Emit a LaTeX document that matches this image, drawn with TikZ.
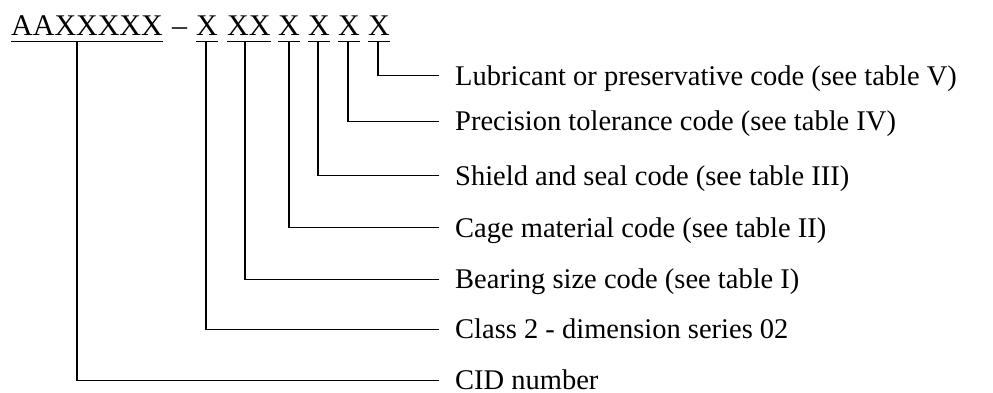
\documentclass[tikz,border=0pt]{standalone}
\usepackage{fontspec}
\setmainfont{Liberation Serif}
\begin{document}
\begin{tikzpicture}[x=1pt,y=-1pt,
  seg/.style={anchor=base west,inner sep=0pt,font=\fontsize{30}{34}\selectfont},
  lbl/.style={anchor=west,inner sep=0pt,text height=18.6pt,text depth=0pt,font=\fontsize{28.5}{34}\selectfont},
  ln/.style={line width=1.3pt},
  uline/.style={line width=1.5pt}]
\useasboundingbox (0,0) rectangle (993,392);
% code segments
\node[seg] (s0) at (11,35.5) {AAXXXXX};
\node[seg] (dash) at (172,35.5) {–};
\node[seg] (s1) at (196,35.5) {X};
\node[seg] (s2) at (227,35.5) {XX};
\node[seg] (s3) at (278,35.5) {X};
\node[seg] (s4) at (308,35.5) {X};
\node[seg] (s5) at (338,35.5) {X};
\node[seg] (s6) at (368,35.5) {X};
\foreach \s in {s0,s1,s2,s3,s4,s5,s6}
  \draw[uline] ([yshift=-6.2pt]\s.base west) -- ([yshift=-6.2pt]\s.base east);
% tap points
\coordinate (t0) at (77,41.7);
\coordinate (t1) at (206,41.7);
\coordinate (t2) at (245,41.7);
\coordinate (t3) at (289,41.7);
\coordinate (t4) at (318,41.7);
\coordinate (t5) at (348,41.7);
\coordinate (t6) at (378,41.7);
% labels
\node[lbl] (l6) at (455,75.7) {Lubricant or preservative code (see table V)};
\node[lbl] (l5) at (455,121.3) {Precision tolerance code (see table IV)};
\node[lbl] (l4) at (455,175.7) {Shield and seal code (see table III)};
\node[lbl] (l3) at (455,227.7) {Cage material code (see table II)};
\node[lbl] (l2) at (455,279.3) {Bearing size code (see table I)};
\node[lbl] (l1) at (455,329.3) {Class 2 - dimension series 02};
\node[lbl] (l0) at (455,380.5) {CID number};
% connectors
\foreach \i in {0,...,6}
  \draw[ln] (t\i) |- ([xshift=-16pt]l\i.west);
\end{tikzpicture}
\end{document}
